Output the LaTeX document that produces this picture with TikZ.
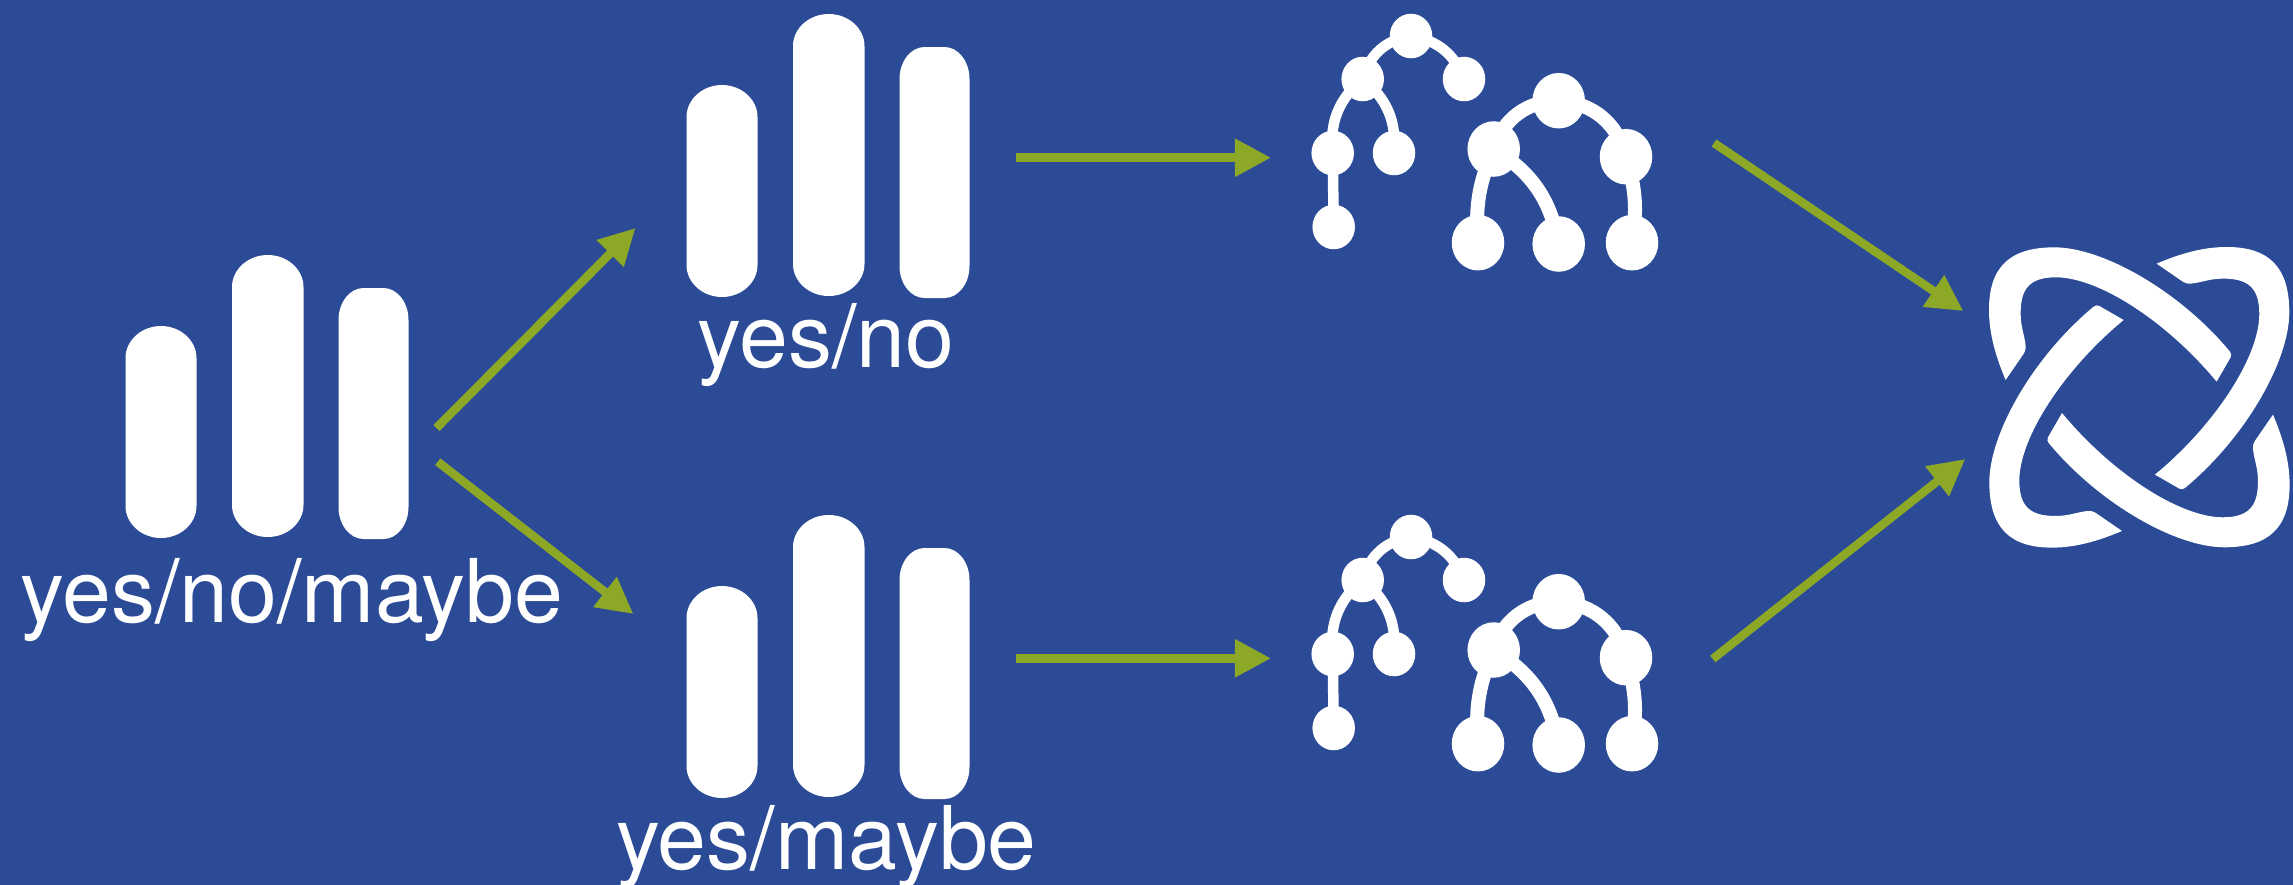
\documentclass[tikz,border=0pt]{standalone}
\usepackage{fontspec}
\setmainfont{TeX Gyre Heros}
\usetikzlibrary{arrows.meta,shapes.geometric}
\definecolor{panelblue}{RGB}{43,75,150}
\definecolor{arrowgreen}{RGB}{141,168,38}
\newcommand{\votebar}[6]{
	\fill[white] ({#1},{#2+#6}) .. controls ({#1},{#2+0.45*#6}) and ({#1+0.45*#5},{#2}) .. ({#1+#5},{#2})
	-- ({#1+#3-#5},{#2}) .. controls ({#1+#3-0.45*#5},{#2}) and ({#1+#3},{#2+0.45*#6}) .. ({#1+#3},{#2+#6})
	-- ({#1+#3},{#2+#4-#6}) .. controls ({#1+#3},{#2+#4-0.45*#6}) and ({#1+#3-0.45*#5},{#2+#4}) .. ({#1+#3-#5},{#2+#4})
	-- ({#1+#5},{#2+#4}) .. controls ({#1+0.45*#5},{#2+#4}) and ({#1},{#2+#4-0.45*#6}) .. ({#1},{#2+#4-#6})
	-- cycle;
}
\begin{document}
\begin{tikzpicture}[
		x=0.01cm,
		y=-0.01cm,
		answer/.style={
			text=white, inner sep=0pt, anchor=base,
			font=\fontsize{25}{28}\selectfont
		},
		smalldot/.style={
			fill=white, ellipse, inner sep=0pt,
			minimum width=4.25mm, minimum height=4.45mm
		},
		bigdot/.style={
			fill=white, ellipse, inner sep=0pt,
			minimum width=5.25mm, minimum height=5.55mm
		},
		smalllink/.style={draw=white, line width=1.05mm},
		biglink/.style={draw=white, line width=1.4mm},
		flow/.style={
			draw=arrowgreen, line width=0.85mm,
			-{Triangle[length=3.6mm,width=3.6mm]}
		}
		]
		
		\useasboundingbox (0,0) rectangle (2293,884);
		\fill[panelblue] (-5,-5) rectangle (2298,889);
		
		\foreach \gx/\gy in {125.5/539,686.5/298,686.5/799} {
			\begin{scope}[shift={(\gx,\gy)}]
				\votebar{0}{-213}{71}{212}{35.5}{32}
				\votebar{106.5}{-284}{71.5}{282}{35.7}{32}
				\votebar{213}{-251}{70}{251}{25}{32}
			\end{scope}
		}
		
		\node[answer] (lblL) at (292,622) {yes/no/maybe};
		\node[answer] (lblU) at (826,367.7) {yes/no};
		\node[answer] (lblD) at (826.4,869) {yes/maybe};
		
		\foreach \tr/\dy in {A/0,B/501} {
			\begin{scope}[shift={(0,\dy)}]
				\node[smalldot] (s\tr0) at (1411,36) {};
				\node[smalldot] (s\tr1) at (1362.7,79) {};
				\node[smalldot] (s\tr2) at (1464,79) {};
				\node[smalldot] (s\tr3) at (1332.7,153) {};
				\node[smalldot] (s\tr4) at (1394,153) {};
				\node[smalldot] (s\tr5) at (1333.7,227) {};
				\node[bigdot] (b\tr0) at (1558.7,100.7) {};
				\node[bigdot] (b\tr1) at (1493.7,149) {};
				\node[bigdot] (b\tr2) at (1626,156.7) {};
				\node[bigdot] (b\tr3) at (1478,242.7) {};
				\node[bigdot] (b\tr4) at (1558.7,244) {};
				\node[bigdot] (b\tr5) at (1632,242.7) {};
				\draw[smalllink] (s\tr0.center) to[bend right=33] (s\tr1.center);
				\draw[smalllink] (s\tr0.center) to[bend left=30] (s\tr2.center);
				\draw[smalllink] (s\tr1.center) to[bend right=28] (s\tr3.center);
				\draw[smalllink] (s\tr1.center) to[bend left=28] (s\tr4.center);
				\draw[smalllink] (s\tr3.center) -- (s\tr5.center);
				\draw[biglink] (b\tr0.center) to[bend right=36] (b\tr1.center);
				\draw[biglink] (b\tr0.center) to[bend left=36] (b\tr2.center);
				\draw[biglink] (b\tr1.center) to[bend right=14] (b\tr3.center);
				\draw[biglink] (b\tr1.center) to[bend left=24] (b\tr4.center);
				\draw[biglink] (b\tr2.center) to[bend left=13] (b\tr5.center);
			\end{scope}
		}
		
		\foreach \ang in {0,90,180,270} {
			\begin{scope}[shift={(2139.3,397.3)},rotate=\ang,scale=0.3333]
				\fill[white] (-401,-52) .. controls (-430,-120) and (-451,-190) .. (-451,-262)
				.. controls (-451,-390) and (-390,-450) .. (-255,-450)
				.. controls (-110,-450) and (120,-320) .. (272,-137)
				.. controls (276,-132) and (277,-126) .. (274,-120)
				-- (232,-47)
				.. controls (85,-225) and (-120,-360) .. (-250,-360)
				.. controls (-330,-360) and (-356,-325) .. (-356,-252)
				.. controls (-356,-210) and (-345,-190) .. (-341,-155)
				.. controls (-340,-145) and (-342,-140) .. (-346,-132)
				-- cycle;
			\end{scope}
		}
		
		\coordinate (fromLU) at (436.5,428);
		\coordinate (toLU) at (635.5,228);
		\coordinate (fromLD) at (437.7,461.7);
		\coordinate (toLD) at (633.4,614);
		\coordinate (fromU) at (1015.5,157.7);
		\coordinate (toU) at (1271,157.7);
		\coordinate (fromD) at (1015.6,658.3);
		\coordinate (toD) at (1271,658.3);
		\coordinate (fromAK) at (1714,143);
		\coordinate (toAK) at (1963.3,311);
		\coordinate (fromBK) at (1712.7,659);
		\coordinate (toBK) at (1965.3,459);
		\draw[flow] (fromLU) -- (toLU);
		\draw[flow] (fromLD) -- (toLD);
		\draw[flow] (fromU) -- (toU);
		\draw[flow] (fromD) -- (toD);
		\draw[flow] (fromAK) -- (toAK);
		\draw[flow] (fromBK) -- (toBK);
	\end{tikzpicture}
\end{document}
